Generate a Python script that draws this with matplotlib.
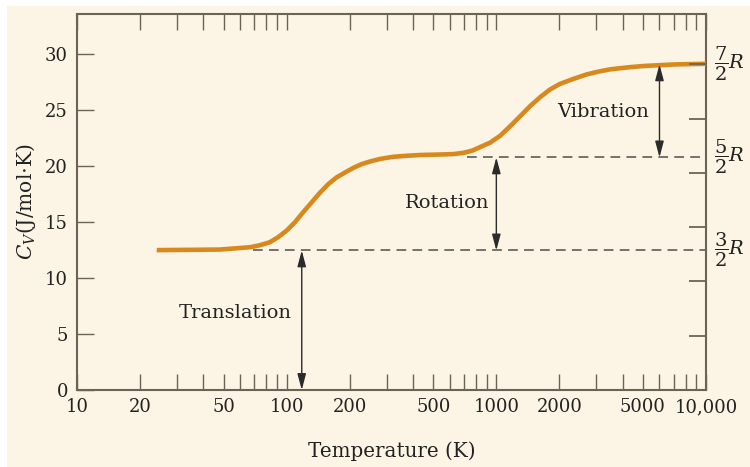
import matplotlib
matplotlib.use("Agg")
import matplotlib.pyplot as plt
from matplotlib.patches import Rectangle
from matplotlib.ticker import FixedLocator, NullLocator, NullFormatter

# ---- data ----
temperature = [24, 48, 67, 74.6, 83, 91, 100, 109.5, 120, 131.6, 144, 158, 173, 190,
               208, 228, 250, 279, 322, 373, 432, 530, 623, 700, 770, 835, 933,
               1040, 1161, 1297, 1446, 1614, 1802, 2010, 2330, 2697, 3064, 3483,
               4180, 5000, 6025, 7245, 10000]
cv = [12.5, 12.55, 12.76, 12.94, 13.2, 13.65, 14.25, 14.99, 15.9, 16.77, 17.62, 18.4,
      19.0, 19.44, 19.85, 20.19, 20.42, 20.65, 20.84, 20.93, 21.0, 21.04, 21.08, 21.2,
      21.4, 21.7, 22.1, 22.7, 23.55, 24.45, 25.35, 26.15, 26.85, 27.35, 27.8, 28.2,
      28.45, 28.65, 28.82, 28.95, 29.03, 29.1, 29.15]

R = 8.314
levels = [1.5 * R, 2.5 * R, 3.5 * R]
level_labels = [r'$\dfrac{3}{2}R$', r'$\dfrac{5}{2}R$', r'$\dfrac{7}{2}R$']
dash_start = [69, 725]          # where dashed lines for 3/2R and 5/2R begin
arrow_T = [118, 1000, 6000]     # arrow x positions
region_labels = ["Translation", "Rotation", "Vibration"]
region_label_pos = [(57, 6.9), (580, 16.7), (3220, 24.8)]

x_major = [10, 20, 50, 100, 200, 500, 1000, 2000, 5000, 10000]
x_major_labels = ["10", "20", "50", "100", "200", "500", "1000", "2000", "5000", "10,000"]
y_ticks = [0, 5, 10, 15, 20, 25, 30]
right_ticks = [4.85, 9.7, 14.55, 19.4, 24.25, 29.1]

# ---- style ----
plt.rcParams['font.family'] = ['DejaVu Serif']
plt.rcParams['mathtext.fontset'] = 'dejavuserif'
bg = '#fcf4e4'
spine_c = '#6b6456'
curve_c = '#d8891e'
dash_c = '#75716b'
txt_c = '#222222'

fig = plt.figure(figsize=(7.5, 4.67), dpi=100)
fig.patch.set_facecolor('white')
fig.patches.append(Rectangle((7 / 750, 0), 1, 1 - 6 / 467, transform=fig.transFigure,
                             facecolor=bg, edgecolor='none', zorder=-10))
ax = fig.add_axes([77 / 750, 1 - 390 / 467, (706 - 77) / 750, (390 - 14) / 467])
ax.set_facecolor(bg)
ax.set_xscale('log')
ax.set_xlim(10, 10000)
ax.set_ylim(0, 33.6)

# all integer-multiple ticks, same length
minor = []
for dec in [10, 100, 1000]:
    for k in range(1, 10):
        v = dec * k
        if 10 < v < 10000:
            minor.append(v)
ax.xaxis.set_major_locator(FixedLocator(x_major))
ax.set_xticklabels(x_major_labels)
ax.xaxis.set_minor_locator(FixedLocator(minor))
ax.xaxis.set_minor_formatter(NullFormatter())
ax.set_yticks(y_ticks)

ax.tick_params(axis='x', which='both', direction='in', length=11.5, width=1,
               color=spine_c, top=True, bottom=True, labelsize=13, pad=6,
               labelcolor=txt_c)
ax.tick_params(axis='y', which='both', direction='in', length=12, width=1,
               color=spine_c, left=True, right=False, labelsize=13, pad=6.5,
               labelcolor=txt_c)
for s in ax.spines.values():
    s.set_color(spine_c)
    s.set_linewidth(1.5)

# right axis ticks
ax2 = ax.twinx()
ax2.set_ylim(ax.get_ylim())
ax2.set_yticks(right_ticks)
ax2.yaxis.set_minor_locator(NullLocator())
ax2.tick_params(axis='y', direction='in', length=12, width=1.3, color=spine_c,
                labelright=False)
for s in ax2.spines.values():
    s.set_visible(False)

# dashed level lines
for lv, xs in zip(levels[:2], dash_start):
    ax.plot([xs, 10000], [lv, lv], ls=(0, (5, 3.2)), color=dash_c, lw=1.4, zorder=2)

# curve
ax.plot(temperature, cv, color=curve_c, lw=3.3, solid_capstyle='butt',
        solid_joinstyle='round', zorder=3)

# arrows
bottoms = [0, levels[0], levels[1]]
tops = levels
for xa, yb, yt in zip(arrow_T, bottoms, tops):
    ax.annotate('', xy=(xa, yb), xytext=(xa, yt),
                arrowprops=dict(arrowstyle='<|-|>,head_length=0.75,head_width=0.2',
                                color='#2b2b2b', lw=1.0, shrinkA=0, shrinkB=0,
                                mutation_scale=13),
                zorder=4)

for txt, (tx, ty) in zip(region_labels, region_label_pos):
    ax.text(tx, ty, txt, ha='center', va='center', fontsize=14, color=txt_c)

# right level labels
for lv, lab in zip(levels, level_labels):
    ax.text(1.012, lv, lab, transform=ax.get_yaxis_transform(), ha='left',
            va='center', fontsize=14, color=txt_c, clip_on=False)

ax.set_xlabel('Temperature (K)', fontsize=14.3, labelpad=18, color=txt_c)
ax.set_ylabel(r'$C_V$(J/mol$\cdot$K)', fontsize=14.5, labelpad=5, color=txt_c)

fig.savefig('out.png', dpi=100, facecolor=fig.get_facecolor())
